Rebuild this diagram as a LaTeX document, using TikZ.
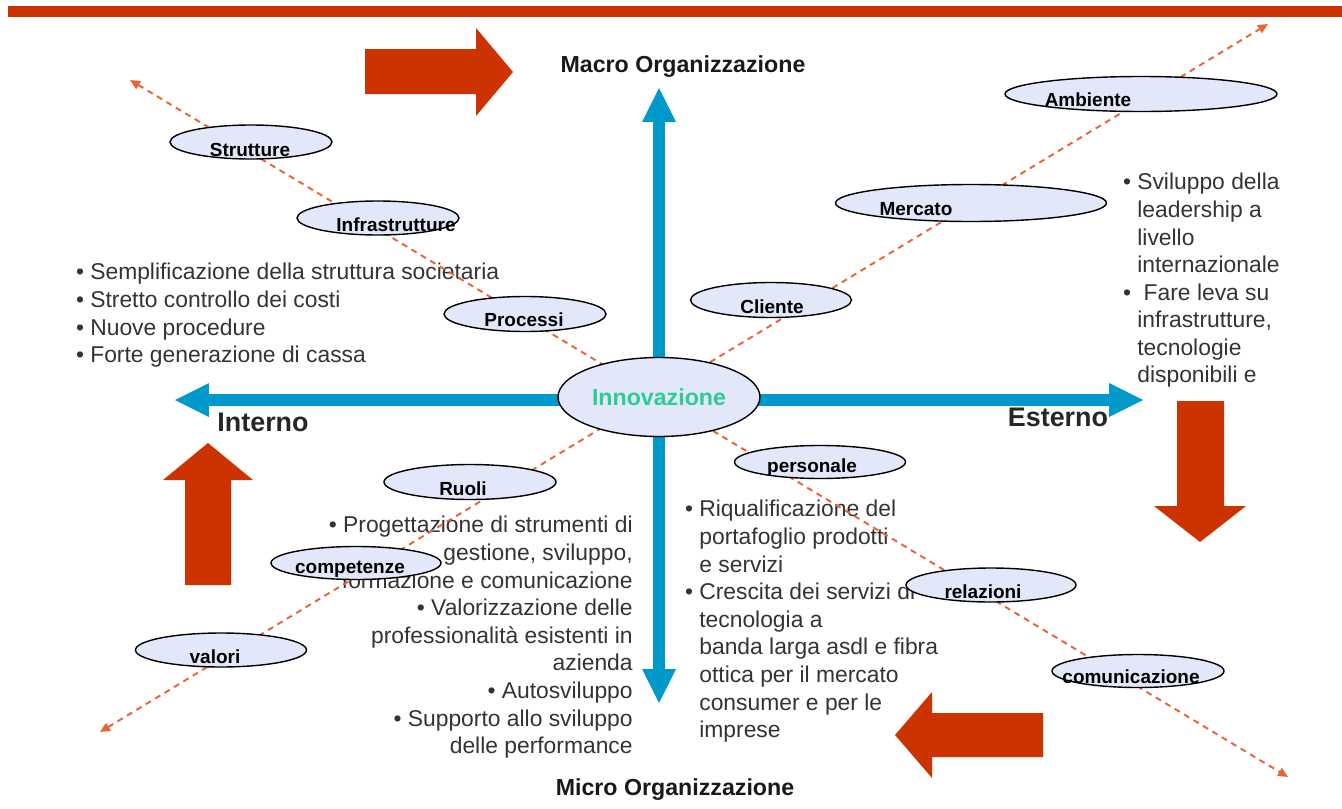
\documentclass[tikz,border=0pt]{standalone}
\usepackage{fontspec}
\setmainfont{Liberation Sans}
\usetikzlibrary{arrows.meta,shapes.geometric,positioning}

\begin{document}
\begin{tikzpicture}[x=0.02cm, y=-0.02cm, font=\fontsize{13}{15.7}\selectfont]
		\definecolor{barred}{RGB}{204,51,0}
		\definecolor{axisblue}{RGB}{0,153,204}
		\definecolor{ovalfill}{RGB}{226,232,250}
		\definecolor{dashorange}{RGB}{232,100,52}
		\definecolor{innovgreen}{RGB}{44,204,146}
		\colorlet{listgray}{black!80}
		\tikzset{oval/.style={shape=ellipse,draw=black,line width=0.8pt,fill=ovalfill,inner sep=0pt}}
		\tikzset{ovaltext/.style={font=\fontsize{10.8}{12}\selectfont\bfseries,inner sep=0pt}}
		\tikzset{heading/.style={font=\fontsize{13.2}{15}\selectfont\bfseries,text=black!90,inner sep=0pt}}
		\tikzset{side/.style={font=\fontsize{15.3}{17}\selectfont\bfseries,text=black!85,inner sep=0pt}}
		\tikzset{listtext/.style={text=listgray,inner sep=0pt}}
		\tikzset{axis/.style={-{Triangle[length=0.68cm,width=0.68cm,line width=0pt]},line width=0.24cm,color=axisblue}}
		\tikzset{dl/.style={{Triangle[length=0.2cm,width=0.18cm]}-{Triangle[length=0.2cm,width=0.18cm]},dash pattern=on 0.12cm off 0.1cm,line width=1.1pt,color=dashorange}}
		\tikzset{bigarrow/.style={fill=barred}}

		\useasboundingbox (0,0) rectangle (1342,808);

		% Top bar
		\fill[barred] (8,6) rectangle (1342,17);

		% Big arrows round the cycle
		\fill[bigarrow] (365,49) -- (476,49) -- (476,28) -- (513,72) -- (476,116) -- (476,94) -- (365,94) -- cycle;
		\fill[bigarrow] (1177,401) -- (1224,401) -- (1224,506) -- (1246,506) -- (1200,542) -- (1154,506) -- (1177,506) -- cycle;
		\fill[bigarrow] (1043,713) -- (1043,757) -- (932,757) -- (932,778) -- (895,735) -- (932,692) -- (932,713) -- cycle;
		\fill[bigarrow] (185,585) -- (185,480) -- (163,480) -- (208,443) -- (253,480) -- (231,480) -- (231,585) -- cycle;

		% Lists
		\node[listtext,anchor=north west,align=left] (internolist) at (90,263) {\llap{• }Semplificazione della struttura societaria\\\llap{• }Stretto controllo dei costi\\\llap{• }Nuove procedure\\\llap{• }Forte generazione di cassa};
		\node[listtext,anchor=north west,align=left] (esternolist) at (1137,173) {\llap{• }Sviluppo della\\leadership a\\livello\\internazionale\\\llap{• }\ Fare leva su\\infrastrutture,\\tecnologie\\disponibili e};
		\node[listtext,anchor=north east,align=right] (microleft) at (633,516) {• Progettazione di strumenti di\\gestione, sviluppo,\\formazione e comunicazione\\• Valorizzazione delle\\professionalità esistenti in\\azienda\\• Autosviluppo\\• Supporto allo sviluppo\\delle performance};
		\node[listtext,anchor=north west,align=left] (microright) at (699,500) {\llap{• }Riqualificazione del\\portafoglio prodotti\\e servizi\\\llap{• }Crescita dei servizi di\\tecnologia a\\banda larga asdl e fibra\\ottica per il mercato\\consumer e per le\\imprese};

		% Axes
		\coordinate (centre) at (659,397);
		\coordinate (macrotip) at (659,88);
		\coordinate (microtip) at (659,703);
		\coordinate (internotip) at (175,400);
		\coordinate (esternotip) at (1143,400);
		\draw[axis] (centre) -- (macrotip);
		\draw[axis] (centre) -- (microtip);
		\draw[axis] (centre |- internotip) -- (internotip);
		\draw[axis] (centre |- esternotip) -- (esternotip);

		% Diagonals
		\coordinate (nwtip) at (130,80);
		\coordinate (setip) at (1288,777);
		\coordinate (swtip) at (100,732);
		\coordinate (netip) at (1268,24);
		\draw[dl] (nwtip) -- (setip);
		\draw[dl] (swtip) -- (netip);

		% Ovals
		\node[oval,minimum width=3.24cm,minimum height=0.68cm] (strutture) at (251,142) {};
		\node[oval,minimum width=3.24cm,minimum height=0.68cm] (infrastrutture) at (378,218) {};
		\node[oval,minimum width=3.24cm,minimum height=0.7cm] (processi) at (525,314) {};
		\node[oval,minimum width=3.22cm,minimum height=0.7cm] (cliente) at (771,300) {};
		\node[oval,minimum width=5.42cm,minimum height=0.74cm] (mercato) at (971,203) {};
		\node[oval,minimum width=5.44cm,minimum height=0.7cm] (ambiente) at (1141,94) {};
		\node[oval,minimum width=3.44cm,minimum height=0.7cm] (ruoli) at (470,482) {};
		\node[oval,minimum width=3.4cm,minimum height=0.66cm] (competenze) at (356,563) {};
		\node[oval,minimum width=3.42cm,minimum height=0.68cm] (valori) at (221,650) {};
		\node[oval,minimum width=3.42cm,minimum height=0.66cm] (personale) at (820,462) {};
		\node[oval,minimum width=3.4cm,minimum height=0.68cm] (relazioni) at (991,585) {};
		\node[oval,minimum width=3.44cm,minimum height=0.66cm] (comunicazione) at (1138,671) {};

		% Oval labels
		\node[ovaltext] (strutture label) at (250,150) {Strutture};
		\node[ovaltext] (infrastrutture label) at (396,225) {Infrastrutture};
		\node[ovaltext] (processi label) at (524,320) {Processi};
		\node[ovaltext] (cliente label) at (772,307) {Cliente};
		\node[ovaltext] (mercato label) at (916,209) {Mercato};
		\node[ovaltext] (ambiente label) at (1088,100) {Ambiente};
		\node[ovaltext] (ruoli label) at (463,489) {Ruoli};
		\node[ovaltext] (competenze label) at (350,569) {competenze};
		\node[ovaltext] (valori label) at (215,657) {valori};
		\node[ovaltext] (personale label) at (812,468) {personale};
		\node[ovaltext] (relazioni label) at (983,592) {relazioni};
		\node[ovaltext] (comunicazione label) at (1131,677) {comunicazione};

		% Innovazione
		\node[oval,minimum width=4.04cm,minimum height=1.58cm,font=\fontsize{13.2}{15}\selectfont\bfseries,text=innovgreen] (innovazione) at (centre) {Innovazione};

		% Headings
		\node[heading] (macro) at (683,67) {Macro Organizzazione};
		\node[heading] (micro) at (675,790) {Micro Organizzazione};
		\node[side] (interno) at (263,422) {Interno};
		\node[side] (esterno) at (1058,417) {Esterno};
	\end{tikzpicture}
\end{document}
